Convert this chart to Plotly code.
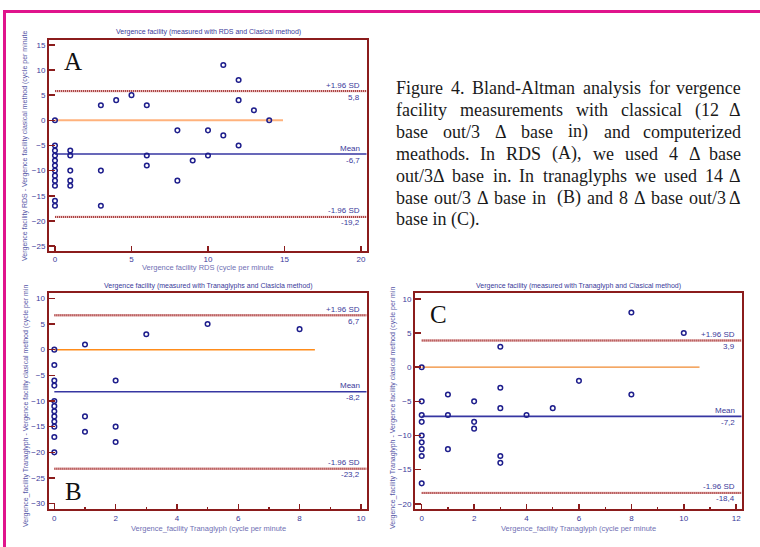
import plotly.graph_objects as go

W, H = 760, 547

# ---------------- data ----------------
# Panel A: RDS vs classical
A_x = [0, 0, 0, 0, 0, 0, 0, 0, 0, 0, 0, 0, 1, 1, 1, 1, 1, 3, 3, 3, 4, 5, 6, 6, 6,
       8, 8, 9, 10, 10, 11, 11, 12, 12, 12, 13, 14]
A_y = [0, -5, -6, -7, -8, -9, -10, -11, -12, -13, -16, -17, -6, -7, -10, -12, -13,
       3, -10, -17, 4, 5, 3, -7, -9, -2, -12, -8, -2, -7, 11, -3, 8, 4, -5, 2, 0]
A_upper, A_mean, A_lower = 5.8, -6.7, -19.2
A_labels = ["5,8", "-6,7", "-19,2"]
A_zero_end = 14.9

# Panel B: Tranaglyphs (14/3) vs classical
B_x = [0, 0, 0, 0, 0, 0, 0, 0, 0, 0, 0, 0, 1, 1, 1, 2, 2, 2, 3, 5, 8]
B_y = [0, -3, -6, -7, -10, -11, -12, -13, -14, -15, -17, -20, 1, -13, -16,
       -6, -15, -18, 3, 5, 4]
B_upper, B_mean, B_lower = 6.7, -8.2, -23.2
B_labels = ["6,7", "-8,2", "-23,2"]
B_zero_end = 8.5

# Panel C: Tranaglyph (8/3) vs classical
C_x = [0, 0, 0, 0, 0, 0, 0, 0, 0, 1, 1, 1, 2, 2, 2, 3, 3, 3, 3, 3, 4, 5, 6, 8, 8, 10]
C_y = [0, -5, -7, -8, -10, -11, -12, -13, -17, -4, -7, -12, -5, -8, -9,
       3, -3, -6, -13, -14, -7, -6, -2, 8, -4, 5]
C_upper, C_mean, C_lower = 3.9, -7.2, -18.4
C_labels = ["3,9", "-7,2", "-18,4"]
C_zero_end = 10.6

A_title = "Vergence facility (measured with RDS and Clasical method)"
B_title = "Vergence facility (measured with Tranaglyphs and Clasicla method)"
C_title = "Vergence facility (measured with Tranaglyph and Clasical method)"
A_xtitle = "Vergence facility RDS (cycle per minute"
B_xtitle = "Vergence_facility Tranaglyph (cycle per minute"
C_xtitle = "Vergence_facility Tranaglyph (cycle per minute"
A_ytitle = "Vergence facility RDS - Vergence facility clasical method (cycle per minute"
B_ytitle = "Vergence_facility Tranaglyph - Vergence facility clasical method (cycle per min"
C_ytitle = "Vergence_facility Tranaglyph - Vergence facility clasical method (cycle per min"

caption_lines = [
    "Figure 4. Bland-Altman analysis for vergence",
    "facility measurements with classical (12 Δ",
    "base out/3 Δ base in) and computerized",
    "meathods. In RDS (A), we used 4 Δ base",
    "out/3Δ base in. In tranaglyphs we used 14 Δ",
    "base out/3 Δ base in  (B) and 8 Δ base out/3 Δ",
    "base in (C).",
]

# ---------------- styles ----------------
DARKRED = "#8b1c1c"
TXT = "#3a3a9a"
XT = "#7070b4"
YT = "#5656a6"
MARK = "#1e1e8c"
MEAN = "#3636a2"
SD = "#a84040"
SD_BG = "#e6b4b4"
MAGENTA = "#e0148c"

def px(x):
    return x / W

def py(y):
    return 1 - y / H

panels = [
    dict(name="A", x=A_x, y=A_y, up=A_upper, mean=A_mean, lo=A_lower, labels=A_labels,
         zend=A_zero_end, zcol="#ffb27c", zw=2,
         box=(49, 40, 366.7, 250.7), xr=[-0.39, 20.37], yr=[-25.92, 15.96],
         xd=5, minor=False, title=A_title, xt=A_xtitle, yt=A_ytitle,
         tpos=(208, 32), xtpos=(208, 268), ytpos=(25, 146), letter_pos=(73, 62)),
    dict(name="B", x=B_x, y=B_y, up=B_upper, mean=B_mean, lo=B_lower, labels=B_labels,
         zend=B_zero_end, zcol="#ff8c1a", zw=1.5,
         box=(48.5, 292.7, 366.7, 509.3), xr=[-0.19, 10.19], yr=[-31.1, 11.1],
         xd=2, minor=True, title=B_title, xt=B_xtitle, yt=B_ytitle,
         tpos=(208, 286), xtpos=(208, 528), ytpos=(26, 406), letter_pos=(73, 491)),
    dict(name="C", x=C_x, y=C_y, up=C_upper, mean=C_mean, lo=C_lower, labels=C_labels,
         zend=C_zero_end, zcol="#f08a30", zw=1.2,
         box=(415, 292.7, 741.7, 509.3), xr=[-0.256, 12.21], yr=[-20.8, 10.9],
         xd=2, minor=True, title=C_title, xt=C_xtitle, yt=C_ytitle,
         tpos=(578, 286), xtpos=(578, 528), ytpos=(393, 408), letter_pos=(438, 314)),
]

fig = go.Figure()
annotations = []
shapes = []

for i, p in enumerate(panels):
    sfx = "" if i == 0 else str(i + 1)
    xa, ya = "x" + sfx, "y" + sfx
    x0b, y0b, x1b, y1b = p["box"]
    xmax = p["xr"][1]

    # reference lines (hatched SD lines: light base + fine dotted overlay)
    for val in (p["up"], p["lo"]):
        fig.add_trace(go.Scatter(x=[0, xmax], y=[val, val], mode="lines",
                                 line=dict(color=SD_BG, width=2.4),
                                 xaxis=xa, yaxis=ya, showlegend=False, hoverinfo="skip"))
        fig.add_trace(go.Scatter(x=[0, xmax], y=[val, val], mode="lines",
                                 line=dict(color=SD, width=2, dash="1px,1px"),
                                 xaxis=xa, yaxis=ya, showlegend=False, hoverinfo="skip"))
    fig.add_trace(go.Scatter(x=[0, xmax], y=[p["mean"], p["mean"]], mode="lines",
                             line=dict(color=MEAN, width=1.6),
                             xaxis=xa, yaxis=ya, showlegend=False, hoverinfo="skip"))
    fig.add_trace(go.Scatter(x=[0, p["zend"]], y=[0, 0], mode="lines",
                             line=dict(color=p["zcol"], width=p["zw"]),
                             xaxis=xa, yaxis=ya, showlegend=False, hoverinfo="skip"))
    # points
    fig.add_trace(go.Scatter(x=p["x"], y=p["y"], mode="markers",
                             marker=dict(symbol="circle-open", size=4.6, color=MARK,
                                         line=dict(width=1.5, color=MARK)),
                             xaxis=xa, yaxis=ya, showlegend=False))

    xkey = "xaxis" + sfx
    ykey = "yaxis" + sfx
    xaxis = dict(domain=[px(x0b), px(x1b)], range=p["xr"], anchor=ya,
                 showgrid=False, zeroline=False, showline=True, mirror=True,
                 linecolor=DARKRED, linewidth=2, ticks="inside", ticklen=5,
                 tickwidth=1.5, tickcolor=DARKRED, dtick=p["xd"], tick0=0,
                 tickfont=dict(family="Arial, Liberation Sans", size=8, color=TXT))
    if p["minor"]:
        xaxis["minor"] = dict(dtick=1, tick0=0, ticks="inside", ticklen=2,
                              tickwidth=1.2, tickcolor=DARKRED, showgrid=False)
    yaxis = dict(domain=[py(y1b), py(y0b)], range=p["yr"], anchor=xa,
                 showgrid=False, zeroline=False, showline=True, mirror=True,
                 linecolor=DARKRED, linewidth=2, ticks="inside", ticklen=6,
                 tickwidth=1.5, tickcolor=DARKRED, dtick=5, tick0=0,
                 tickfont=dict(family="Arial, Liberation Sans", size=8, color=TXT))
    fig.update_layout(**{xkey: xaxis, ykey: yaxis})

    dref = xa + " domain"
    lab = dict(xref=dref, yref=ya, x=1, xanchor="right", xshift=-5, showarrow=False,
               font=dict(family="Arial, Liberation Sans", size=8, color=TXT))
    annotations += [
        dict(lab, y=p["up"], text="+1.96 SD", yshift=6),
        dict(lab, y=p["up"], text=p["labels"][0], yshift=-6),
        dict(lab, y=p["mean"], text="Mean", yshift=6),
        dict(lab, y=p["mean"], text=p["labels"][1], yshift=-6),
        dict(lab, y=p["lo"], text="-1.96 SD", yshift=6),
        dict(lab, y=p["lo"], text=p["labels"][2], yshift=-6),
    ]
    base = dict(xref="paper", yref="paper", showarrow=False, xanchor="center", yanchor="middle")
    annotations.append(dict(base, x=px(p["tpos"][0]), y=py(p["tpos"][1]), text=p["title"],
                            font=dict(family="Arial, Liberation Sans", size=7, color=TXT)))
    annotations.append(dict(base, x=px(p["xtpos"][0]), y=py(p["xtpos"][1]), text=p["xt"],
                            font=dict(family="Arial, Liberation Sans", size=7.5, color=XT)))
    annotations.append(dict(base, x=px(p["ytpos"][0]), y=py(p["ytpos"][1]), text=p["yt"],
                            textangle=-90,
                            font=dict(family="Arial, Liberation Sans", size=7, color=YT)))
    annotations.append(dict(base, x=px(p["letter_pos"][0]), y=py(p["letter_pos"][1]),
                            text=p["name"],
                            font=dict(family="Liberation Serif, Times New Roman, serif",
                                      size=25, color="#111111")))

# ---------------- justified caption ----------------
TW = {' ': 250, '(': 333, ')': 333, ',': 250, '-': 333, '.': 250, '/': 278, 'Δ': 612,
      'A': 722, 'B': 667, 'C': 667, 'D': 722, 'E': 611, 'F': 556, 'G': 722, 'H': 722,
      'I': 333, 'J': 389, 'K': 722, 'L': 611, 'M': 889, 'N': 722, 'O': 722, 'P': 556,
      'Q': 722, 'R': 667, 'S': 556, 'T': 611, 'U': 722, 'V': 722, 'W': 944, 'X': 722,
      'Y': 722, 'Z': 611,
      'a': 444, 'b': 500, 'c': 444, 'd': 500, 'e': 444, 'f': 333, 'g': 500, 'h': 500,
      'i': 278, 'j': 278, 'k': 500, 'l': 278, 'm': 778, 'n': 500, 'o': 500, 'p': 500,
      'q': 500, 'r': 333, 's': 389, 't': 278, 'u': 500, 'v': 500, 'w': 722, 'x': 500,
      'y': 500, 'z': 444}
for d in "0123456789":
    TW[d] = 500

CAP_FS = 18
CAP_L, CAP_R = 395, 741.7
CAP_Y0, CAP_DY = 88.3, 21.85
cap_font = dict(family="Liberation Serif, Times New Roman, serif", size=CAP_FS, color="#1a1a1a")

def wwidth(s):
    return sum(TW.get(c, 500) for c in s) * CAP_FS / 1000.0

for li, line in enumerate(caption_lines):
    yy = py(CAP_Y0 + li * CAP_DY)
    words = line.split(" ")
    if li == len(caption_lines) - 1:
        annotations.append(dict(xref="paper", yref="paper", x=px(CAP_L), y=yy, text=line,
                                xanchor="left", yanchor="middle", showarrow=False,
                                font=cap_font, borderpad=0))
        continue
    widths = [wwidth(w) for w in words]
    gap = (CAP_R - CAP_L - sum(widths)) / (len(words) - 1)
    xpos = CAP_L
    for wi, (w, ww) in enumerate(zip(words, widths)):
        if w:
            if wi == len(words) - 1:
                annotations.append(dict(xref="paper", yref="paper", x=px(CAP_R), y=yy,
                                        text=w, xanchor="right", yanchor="middle",
                                        showarrow=False, font=cap_font, borderpad=0))
            else:
                annotations.append(dict(xref="paper", yref="paper", x=px(xpos), y=yy,
                                        text=w, xanchor="left", yanchor="middle",
                                        showarrow=False, font=cap_font, borderpad=0))
        xpos += ww + gap

# magenta frame
shapes.append(dict(type="rect", xref="paper", yref="paper",
                   x0=px(4.5), x1=px(800), y0=py(600), y1=py(11.5),
                   line=dict(color=MAGENTA, width=3), layer="above"))

fig.update_layout(width=W, height=H, margin=dict(l=0, r=0, t=0, b=0, pad=0),
                  paper_bgcolor="white", plot_bgcolor="white",
                  annotations=annotations, shapes=shapes, showlegend=False,
                  hovermode=False,
                  font=dict(family="Arial, Liberation Sans", color=TXT))

fig.write_html("out.html", config={"displayModeBar": False, "staticPlot": True},
               post_script="document.body.style.margin='0px';document.body.style.overflow='hidden';")
